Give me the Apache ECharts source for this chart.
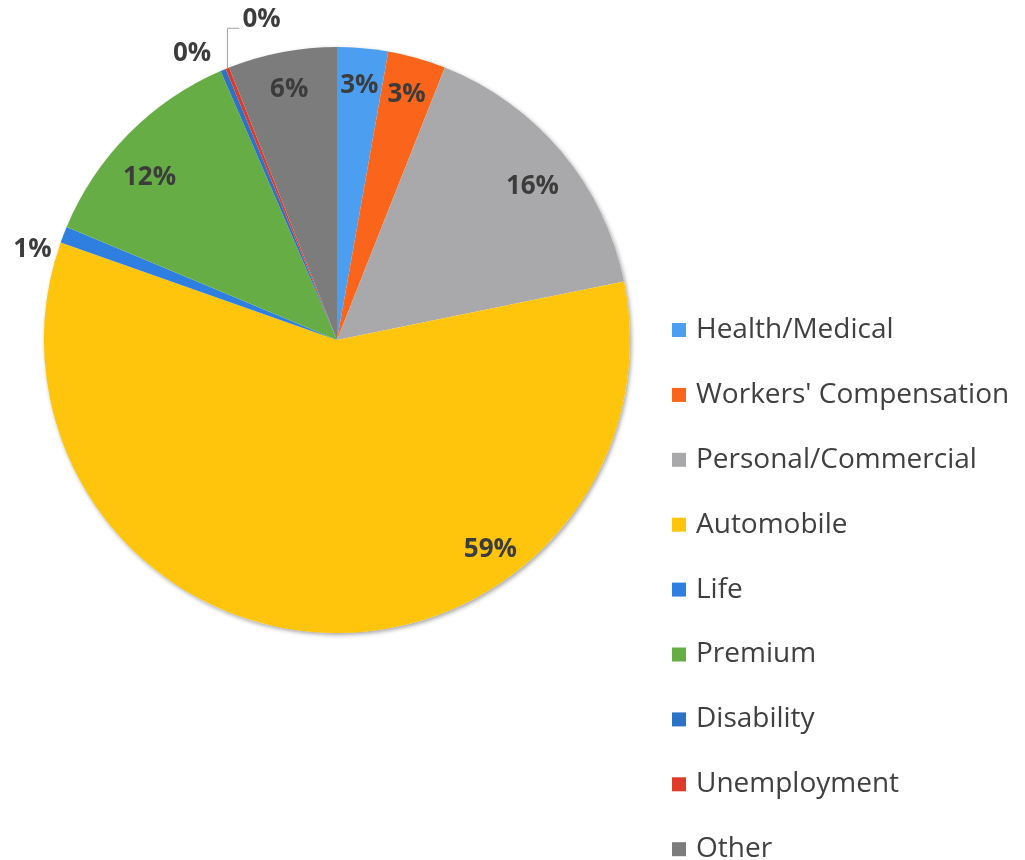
<!DOCTYPE html>
<html>
<head>
<meta charset="utf-8">
<script src="https://cdn.jsdelivr.net/npm/echarts@6/dist/echarts.min.js"></script>
<style>
  html, body { margin: 0; padding: 0; background: #ffffff; }
  #chart { width: 1025px; height: 860px; }
</style>
</head>
<body>
<div id="chart"></div>
<script>
// Share of complaints by insurance line (percent)
const categories = [
  'Health/Medical',
  "Workers' Compensation",
  'Personal/Commercial',
  'Automobile',
  'Life',
  'Premium',
  'Disability',
  'Unemployment',
  'Other'
];
const values = [2.8, 3.2, 15.8, 58.6, 0.9, 12.2, 0.3, 0.2, 6.0];
const colors = ['#4b9ef0', '#fa651b', '#a9a9ab', '#fec50c', '#2f7fe0', '#66ad45', '#2c72c6', '#dd3a2a', '#7c7c7c'];

// slices whose percentage sits outside the pie
const outsideLabels = [4, 6, 7];

const FONT = "'Open Sans', 'Noto Sans', sans-serif";
const CENTER = [337, 340];
const R = 293;

const chart = echarts.init(document.getElementById('chart'), null, { renderer: 'canvas' });

function pctLabel(p) {
  return Math.round(p.percent) + '%';
}

function placeLabel(p) {
  const pts = p.labelLinePoints;
  switch (p.dataIndex) {
    case 2: return { dy: 10 };
    case 3: return { dx: 171, dy: -45 };
    case 5: return { dx: -6, dy: 17 };
    case 4: {
      const e = pts[0];
      return { x: e[0] - 12, y: e[1] + 15, align: 'right', verticalAlign: 'middle' };
    }
    case 6: {
      const e = pts[0];
      return { x: e[0] - 12, y: e[1] - 16, align: 'right', verticalAlign: 'middle' };
    }
    case 7: {
      const e = pts[0];
      return {
        x: e[0] + 15, y: e[1] - 49, align: 'left', verticalAlign: 'middle',
        labelLinePoints: [[e[0], e[1]], [e[0], e[1] - 40], [e[0] + 12, e[1] - 40]]
      };
    }
  }
  return {};
}

const sliceData = categories.map((name, i) => ({
  name,
  value: values[i],
  itemStyle: { color: colors[i] }
}));

const labelData = categories.map((name, i) => {
  const item = { name, value: values[i] };
  if (outsideLabels.includes(i)) {
    item.label = { position: 'outside' };
    item.labelLine = {
      show: true,
      lineStyle: { color: '#a0a0a0', width: 1, opacity: i === 7 ? 1 : 0 }
    };
  }
  return item;
});

const option = {
  backgroundColor: '#ffffff',
  animation: false,
  legend: {
    orient: 'vertical',
    left: 672,
    top: 316,
    height: 560,
    padding: 0,
    icon: 'rect',
    itemWidth: 14,
    itemHeight: 14,
    itemGap: 36.9,
    selectedMode: false,
    data: categories,
    textStyle: {
      fontFamily: FONT,
      fontSize: 28,
      color: '#404040',
      padding: [0, 0, 0, 5]
    }
  },
  series: [
    {
      // soft drop shadow under the whole disc
      type: 'pie',
      name: 'shadow',
      silent: true,
      center: CENTER,
      radius: [0, R],
      label: { show: false },
      labelLine: { show: false },
      itemStyle: {
        color: '#ffffff',
        shadowColor: 'rgba(0,0,0,0.35)',
        shadowBlur: 4,
        shadowOffsetX: 1.5,
        shadowOffsetY: 2
      },
      data: [{ name: '', value: 1 }]
    },
    {
      type: 'pie',
      name: 'Complaints',
      center: CENTER,
      radius: [0, R],
      startAngle: 90,
      clockwise: true,
      avoidLabelOverlap: false,
      label: { show: false },
      labelLine: { show: false },
      emphasis: { disabled: true },
      data: sliceData
    },
    {
      // transparent ring that carries the percentage labels
      type: 'pie',
      name: 'labels',
      silent: true,
      center: CENTER,
      radius: [211, R],
      startAngle: 90,
      clockwise: true,
      avoidLabelOverlap: false,
      itemStyle: { color: 'rgba(0,0,0,0)' },
      emphasis: { disabled: true },
      label: {
        show: true,
        position: 'inside',
        formatter: pctLabel,
        fontFamily: FONT,
        fontSize: 26,
        fontWeight: 'bold',
        color: '#3c3c3c'
      },
      labelLine: { show: false, length: 12, length2: 8 },
      labelLayout: placeLabel,
      data: labelData
    }
  ]
};

chart.setOption(option);
</script>
</body>
</html>
